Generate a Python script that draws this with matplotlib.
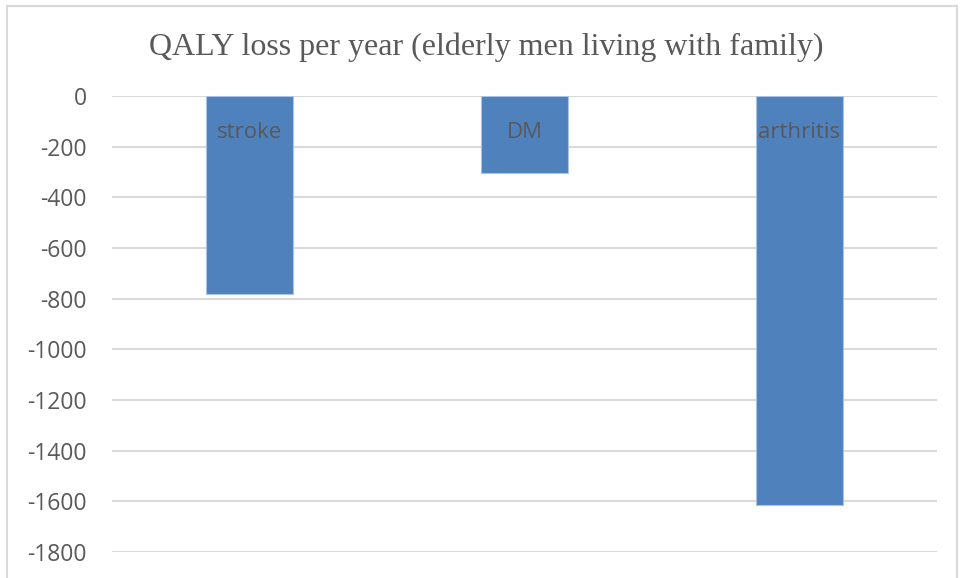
import matplotlib.pyplot as plt
from matplotlib.patches import Rectangle

# Data
categories = ['stroke', 'DM', 'arthritis']
qaly_loss = [-783, -305, -1613]
y_ticks = [0, -200, -400, -600, -800, -1000, -1200, -1400, -1600, -1800]

text_color = '#595959'
grid_color = '#D9D9D9'

fig = plt.figure(figsize=(9.62, 5.78), dpi=100)
ax = fig.add_axes([112 / 962, 1 - 552 / 578, (937 - 112) / 962, (552 - 96) / 578])

x = range(len(categories))
ax.bar(x, qaly_loss, width=0.313, color='#4F81BD', edgecolor='#A7C4E5',
       linewidth=0.8, zorder=3)

# category labels drawn inside the bars, just below the zero line
for i, cat in enumerate(categories):
    ax.annotate(cat, (i, 0), xytext=(0, -26), textcoords='offset points',
                ha='center', va='center', fontsize=16, color=text_color,
                family='Open Sans', zorder=4)

ax.set_xlim(-0.5, 2.5)
ax.set_ylim(-1800, 0)
ax.set_yticks(y_ticks)
ax.set_yticklabels([str(v) for v in y_ticks], fontsize=16.5, color=text_color,
                   family='Open Sans')
ax.set_xticks([])
ax.tick_params(axis='y', length=0, pad=18)
ax.yaxis.grid(True, color=grid_color, linewidth=1.5, zorder=0)
ax.set_axisbelow(True)
for s in ax.spines.values():
    s.set_visible(False)

fig.text(486 / 962, 1 - 47 / 578, 'QALY loss per year (elderly men living with family)',
         ha='center', va='center', fontsize=23, color=text_color,
         family='Liberation Serif')

# light border round the chart area (bottom edge lies outside the picture)
fig.patches.append(Rectangle((7 / 962, -0.05), (957 - 7) / 962, 1.05 - 6 / 578,
                             transform=fig.transFigure, fill=False,
                             edgecolor='#D9D9D9', linewidth=1.5))

plt.savefig('out.png', dpi=100)
